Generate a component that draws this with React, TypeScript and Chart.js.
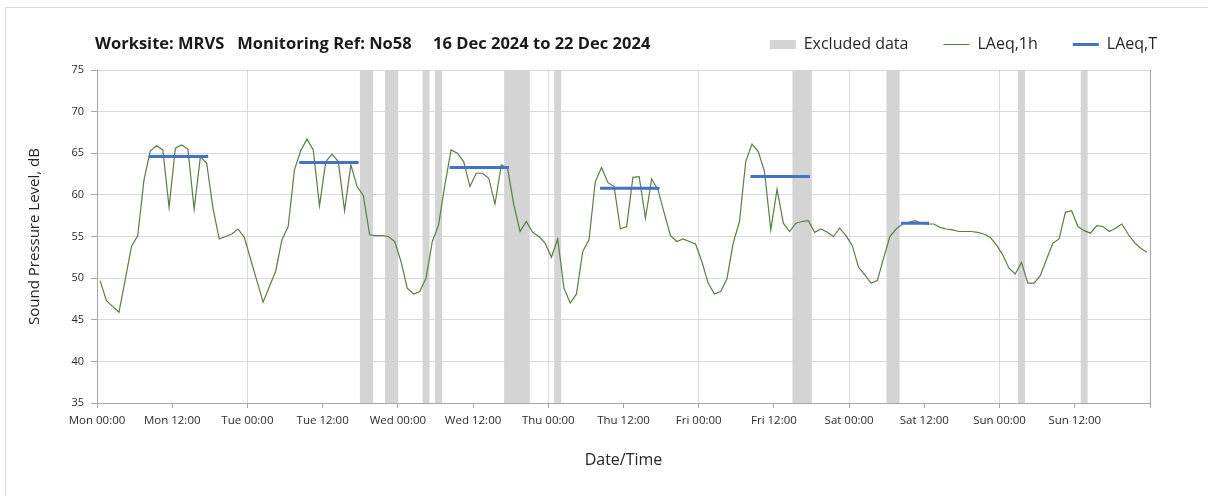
import React, { useEffect, useRef } from "react";
import { Chart, registerables } from "chart.js";

Chart.register(...registerables);

const FONT = '"Open Sans", "Noto Sans", sans-serif';

const titleText = "Worksite: MRVS   Monitoring Ref: No58     16 Dec 2024 to 22 Dec 2024";
const xAxisTitle = "Date/Time";
const yAxisTitle = "Sound Pressure Level, dB";

const tickLabels = [
  "Mon 00:00", "Mon 12:00", "Tue 00:00", "Tue 12:00", "Wed 00:00", "Wed 12:00",
  "Thu 00:00", "Thu 12:00", "Fri 00:00", "Fri 12:00", "Sat 00:00", "Sat 12:00",
  "Sun 00:00", "Sun 12:00",
];

// Hourly LAeq,1h values, Mon 00:00 .. Sun 23:00
const laeq1hMon = [49.7, 47.3, 46.6, 45.9, 49.8, 53.8, 55.1, 61.8, 65.3, 65.9, 65.4, 58.5, 65.6, 66.0, 65.5, 58.3, 64.6, 63.8, 58.4, 54.7, 55.0, 55.3, 55.9, 54.9];
const laeq1hTue = [52.3, 49.7, 47.1, 49.0, 50.8, 54.6, 56.2, 63.0, 65.3, 66.7, 65.4, 58.7, 64.0, 64.9, 64.0, 58.1, 63.6, 61.0, 59.9, 55.2, 55.1, 55.1, 55.0, 54.4];
const laeq1hWed = [52.0, 48.8, 48.1, 48.4, 50.0, 54.4, 56.4, 61.2, 65.4, 65.0, 64.0, 61.0, 62.6, 62.6, 62.0, 58.9, 63.6, 63.2, 58.8, 55.6, 56.8, 55.5, 55.0, 54.2];
const laeq1hThu = [52.5, 54.7, 48.8, 47.0, 48.1, 53.2, 54.6, 61.6, 63.3, 61.5, 61.0, 55.9, 56.2, 62.1, 62.2, 57.2, 61.9, 60.6, 57.8, 55.1, 54.4, 54.7, 54.4, 54.1];
const laeq1hFri = [52.0, 49.4, 48.1, 48.4, 49.9, 54.2, 56.8, 64.0, 66.1, 65.2, 62.8, 55.8, 60.7, 56.6, 55.6, 56.6, 56.8, 56.9, 55.5, 55.9, 55.5, 55.0, 56.0, 55.1];
const laeq1hSat = [53.9, 51.3, 50.4, 49.4, 49.7, 52.4, 55.0, 55.9, 56.5, 56.7, 56.9, 56.6, 56.5, 56.5, 56.1, 55.9, 55.8, 55.6, 55.6, 55.6, 55.5, 55.3, 54.9, 54.0];
const laeq1hSun = [52.8, 51.2, 50.5, 51.9, 49.4, 49.4, 50.3, 52.3, 54.2, 54.7, 57.9, 58.1, 56.2, 55.7, 55.4, 56.3, 56.2, 55.6, 56.0, 56.5, 55.3, 54.3, 53.6, 53.1];

// Excluded hours (hours since Mon 00:00)
const excludedHours = [42, 43, 46, 47, 52, 54, 65, 66, 67, 68, 73, 111, 112, 113, 126, 127, 147, 157];

// LAeq,T periods
const laeqTDay = [0, 1, 2, 3, 4, 5];
const laeqTStartHour = [8, 8, 8, 8, 8, 8];
const laeqTEndHour = [17, 17, 17, 17, 17, 12];
const laeqTValues = [64.6, 63.9, 63.3, 60.8, 62.2, 56.6];

const Y_MIN = 35;
const Y_MAX = 75;
const Y_STEP = 5;
const X_MAX_HOURS = 168;
const X_STEP_HOURS = 12;

export default function App() {
  const canvasRef = useRef<HTMLCanvasElement | null>(null);

  useEffect(() => {
    const canvas = canvasRef.current;
    if (!canvas) return;

    const laeq1h = [...laeq1hMon, ...laeq1hTue, ...laeq1hWed, ...laeq1hThu, ...laeq1hFri, ...laeq1hSat, ...laeq1hSun];
    const lineData = laeq1h.map((v, i) => ({ x: i + 0.5, y: v }));
    const barData = excludedHours.map((h) => ({ x: h + 0.5, y: [Y_MIN, Y_MAX] }));
    const tData: { x: number; y: number | null }[] = [];
    laeqTDay.forEach((d, i) => {
      tData.push({ x: d * 24 + laeqTStartHour[i] + 0.5, y: laeqTValues[i] });
      tData.push({ x: d * 24 + laeqTEndHour[i] + 0.5, y: laeqTValues[i] });
      tData.push({ x: d * 24 + laeqTEndHour[i] + 1, y: null });
    });

    const chart = new Chart(canvas, {
      type: "line",
      data: {
        datasets: [
          {
            type: "bar",
            label: "Excluded data",
            data: barData as any,
            backgroundColor: "#d4d4d4",
            borderWidth: 0,
            barPercentage: 1,
            categoryPercentage: 1,
            pointStyle: "rect",
            order: 3,
          } as any,
          {
            type: "line",
            label: "LAeq,1h",
            data: lineData,
            borderColor: "#5a7d44",
            backgroundColor: "#5a7d44",
            borderWidth: 1.2,
            pointRadius: 0,
            pointStyle: "line",
            tension: 0,
            order: 2,
          },
          {
            type: "line",
            label: "LAeq,T",
            data: tData as any,
            borderColor: "#4472C4",
            backgroundColor: "#4472C4",
            borderWidth: 3,
            pointRadius: 0,
            pointStyle: "line",
            spanGaps: false,
            borderCapStyle: "square",
            order: 1,
          },
        ],
      },
      options: {
        responsive: false,
        animation: false,
        layout: { padding: { top: 1.5, right: 16, left: 0, bottom: 0 } },
        plugins: {
          tooltip: { enabled: false },
          title: { display: false },
          legend: {
            position: "top",
            align: "end",
            labels: {
              usePointStyle: true,
              pointStyleWidth: 26,
              boxHeight: 9,
              padding: 35,
              color: "#262626",
              font: { family: FONT, size: 16 },
              sort: (a: any, b: any) => a.datasetIndex - b.datasetIndex,
            },
          },
        },
        scales: {
          x: {
            type: "linear",
            position: "bottom",
            min: 0,
            max: X_MAX_HOURS,
            offset: false,
            ticks: {
              stepSize: X_STEP_HOURS,
              autoSkip: false,
              maxRotation: 0,
              minRotation: 0,
              padding: 6,
              color: "#2b2b2b",
              font: { family: FONT, size: 11.5 },
              callback: (v: any) => {
                const idx = Math.round(Number(v) / X_STEP_HOURS);
                return tickLabels[idx] ?? "";
              },
            },
            grid: {
              offset: false,
              color: (ctx: any) => {
                const v = ctx.tick ? ctx.tick.value : 0;
                if (v === X_MAX_HOURS) return "#a6a6a6";
                if (v % 24 === 0 && v !== 0) return "#d9d9d9";
                return "rgba(0,0,0,0)";
              },
              tickColor: "#a6a6a6",
              tickLength: 5,
            },
            border: { color: "#a6a6a6", width: 1 },
            title: {
              display: true,
              text: xAxisTitle,
              color: "#262626",
              font: { family: FONT, size: 16 },
              padding: { top: 0, bottom: 26 },
            },
            afterFit: (s: any) => {
              s.height = 93;
            },
          } as any,
          x2: {
            type: "linear",
            position: "top",
            display: true,
            grid: { display: false, drawTicks: false },
            border: { display: false },
            ticks: { display: false },
            afterFit: (s: any) => {
              s.height = 7.5;
            },
          } as any,
          y: {
            type: "linear",
            position: "left",
            min: Y_MIN,
            max: Y_MAX,
            ticks: {
              stepSize: Y_STEP,
              padding: 7,
              color: "#2b2b2b",
              font: { family: FONT, size: 11 },
            },
            grid: { color: "#d9d9d9", tickColor: "#a6a6a6", tickLength: 6 },
            border: { color: "#a6a6a6", width: 1 },
            title: {
              display: true,
              text: yAxisTitle,
              color: "#262626",
              font: { family: FONT, size: 15 },
              padding: { top: 26, bottom: 0 },
            },
            afterFit: (s: any) => {
              s.width = 97;
            },
          } as any,
          y2: {
            type: "linear",
            position: "right",
            display: true,
            grid: { display: false, drawTicks: false },
            border: { display: false },
            ticks: { display: false },
            afterFit: (s: any) => {
              s.width = 42;
            },
          } as any,
        },
      },
    });

    return () => chart.destroy();
  }, []);

  return (
    <div style={{ position: "fixed", left: 0, top: 0, width: 1208, height: 496, overflow: "hidden", background: "#fff" }}>
      <div
        style={{
          position: "absolute",
          left: 5,
          top: 7,
          width: 1400,
          height: 700,
          border: "1px solid #d9d9d9",
          boxSizing: "border-box",
        }}
      />
      <canvas
        ref={canvasRef}
        width={1208}
        height={496}
        style={{ position: "absolute", left: 0, top: 0, width: 1208, height: 496 }}
      />
      <div
        style={{
          position: "absolute",
          left: 95,
          top: 33,
          fontFamily: FONT,
          fontWeight: 700,
          fontSize: 16.5,
          lineHeight: "20px",
          color: "#1a1a1a",
          whiteSpace: "pre",
        }}
      >
        {titleText}
      </div>
    </div>
  );
}
